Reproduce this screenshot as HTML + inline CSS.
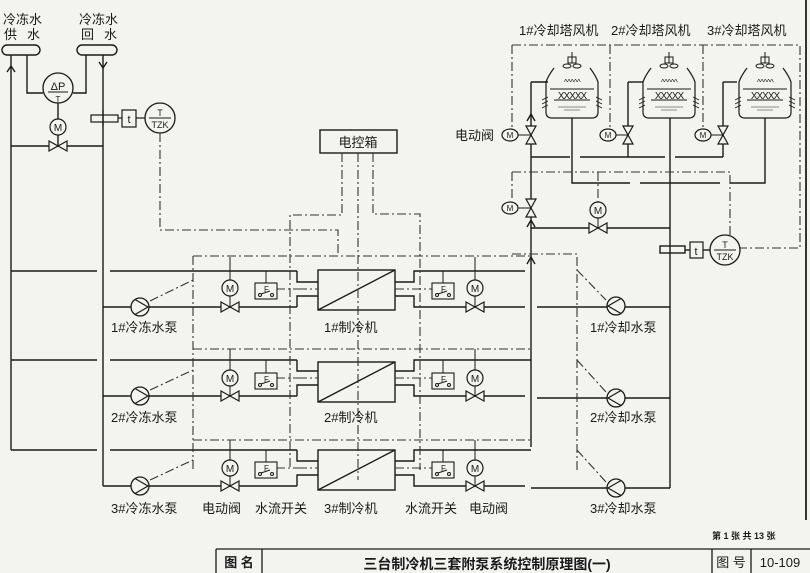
<!DOCTYPE html>
<html><head><meta charset="utf-8"><style>
html,body{margin:0;padding:0;background:#f3f3ef;}
svg{display:block;}
text{font-family:"Liberation Sans","Noto Sans CJK SC",sans-serif;fill:#1a1a1a;}
</style></head><body>
<svg width="810" height="573" viewBox="0 0 810 573" xmlns="http://www.w3.org/2000/svg">
<defs>
<g id="pump"><circle r="9" fill="#f3f3ef" stroke="#1a1a1a" stroke-width="1.3"/><polyline points="-5,-7.5 8,0 -5,7.5" fill="none" stroke="#1a1a1a" stroke-width="1.2"/></g>
<g id="valve"><path d="M-9,-5 L9,5 L9,-5 L-9,5 Z" fill="#f3f3ef" stroke="#1a1a1a" stroke-width="1.2"/></g>
<g id="vvalve"><path d="M-5,-9 L5,9 L-5,9 L5,-9 Z" fill="#f3f3ef" stroke="#1a1a1a" stroke-width="1.2"/></g>
<g id="mot"><circle r="8" fill="#f3f3ef" stroke="#1a1a1a" stroke-width="1.2"/><text x="0" y="4" font-size="10" text-anchor="middle">M</text></g>
<g id="fsw"><rect x="-11" y="-8" width="22" height="16" fill="#f3f3ef" stroke="#1a1a1a" stroke-width="1.1"/><text x="-2" y="1" font-size="8">F</text><circle cx="-6" cy="4" r="1.5" fill="none" stroke="#1a1a1a"/><circle cx="6" cy="4" r="1.5" fill="none" stroke="#1a1a1a"/><line x1="-5" y1="3" x2="4" y2="0" stroke="#1a1a1a"/></g>
<g id="emv"><ellipse rx="8" ry="6" fill="#f3f3ef" stroke="#1a1a1a" stroke-width="1.2"/><text x="0" y="3" font-size="8" text-anchor="middle">M</text></g>
<g id="tower"><path d="M-18,-22 Q-24,-14 -26,-8 L-26,22 Q-26,28 -20,28 L20,28 Q26,28 26,22 L26,-8 Q24,-14 18,-22" fill="none" stroke="#1a1a1a" stroke-width="1.2"/><path d="M-30,10 l6,-3 M-30,14 l6,-3 M-30,18 l6,-3 M24,7 l6,3 M24,11 l6,3 M24,15 l6,3" stroke="#1a1a1a" stroke-width="0.9"/><rect x="-4" y="-33" width="8" height="6" fill="none" stroke="#1a1a1a"/><line x1="0" y1="-38" x2="0" y2="-27" stroke="#1a1a1a"/><ellipse cx="-5" cy="-24" rx="4" ry="2" fill="none" stroke="#1a1a1a"/><ellipse cx="5" cy="-24" rx="4" ry="2" fill="none" stroke="#1a1a1a"/><text x="0" y="-5" font-size="8" text-anchor="middle" letter-spacing="-0.5">^^^^^</text><line x1="-22" y1="-1" x2="22" y2="-1" stroke="#1a1a1a"/><text x="0" y="9" font-size="10" text-anchor="middle" letter-spacing="-1">XXXXX</text><line x1="-18" y1="10" x2="18" y2="10" stroke="#1a1a1a"/><line x1="-14" y1="17" x2="14" y2="17" stroke="#888"/><line x1="-8" y1="20" x2="8" y2="20" stroke="#888"/></g>
</defs>

<line x1="806" y1="0" x2="806" y2="520" stroke="#333" stroke-width="2"/>
<g stroke="#1a1a1a" stroke-width="1.4" fill="none">
<rect x="2" y="45" width="38" height="10" rx="5"/><rect x="77" y="45" width="40" height="10" rx="5"/>
<line x1="11" y1="55" x2="11" y2="450"/>
<line x1="103" y1="55" x2="103" y2="486"/>
<path d="M7,72 L11,66 L15,72 M99,62 L103,68 L107,62"/>
<path d="M27,55 L27,93 L43,93 M86,55 L86,93 L73,93"/>
<line x1="58" y1="103" x2="58" y2="119"/>
<line x1="58" y1="135" x2="58" y2="146"/>
<line x1="11" y1="146" x2="103" y2="146"/>
<line x1="11" y1="271" x2="97" y2="271"/><line x1="110" y1="271" x2="297" y2="271"/>
<line x1="11" y1="360" x2="97" y2="360"/><line x1="110" y1="360" x2="297" y2="360"/>
<line x1="11" y1="450" x2="97" y2="450"/><line x1="110" y1="450" x2="297" y2="450"/>
<line x1="103" y1="307" x2="297" y2="307"/>
<line x1="103" y1="396" x2="297" y2="396"/>
<line x1="103" y1="486" x2="297" y2="486"/>
</g>
<g stroke="#1a1a1a" stroke-width="1.2" fill="none">
<rect x="91" y="115" width="27" height="7"/><line x1="103" y1="110" x2="103" y2="127"/>
<line x1="118" y1="118" x2="122" y2="118"/><line x1="136" y1="118" x2="145" y2="118"/>
</g>
<circle cx="58" cy="88" r="15" fill="#f3f3ef" stroke="#1a1a1a" stroke-width="1.3"/>
<text x="58" y="90" font-size="11" text-anchor="middle">ΔP</text><line x1="48" y1="92" x2="68" y2="92" stroke="#1a1a1a"/><text x="58" y="102" font-size="8" text-anchor="middle">T</text>
<use href="#mot" x="58" y="127"/><use href="#valve" x="58" y="146"/>
<rect x="122" y="110" width="14" height="17" fill="#f3f3ef" stroke="#1a1a1a" stroke-width="1.2"/><text x="129" y="123" font-size="11" text-anchor="middle">t</text>
<circle cx="160" cy="118" r="15" fill="#f3f3ef" stroke="#1a1a1a" stroke-width="1.3"/><text x="160" y="116" font-size="9" text-anchor="middle">T</text><line x1="149" y1="118" x2="171" y2="118" stroke="#1a1a1a"/><text x="160" y="128" font-size="9" text-anchor="middle">TZK</text>

<g stroke="#1a1a1a" stroke-width="1.4" fill="none">
<path d="M297,271 V282 H318 M297,307 V296 H318 M395,282 H414 V271 H525 M395,296 H414 V307 H525"/>
<path d="M297,360 V371 H318 M297,396 V385 H318 M395,371 H414 V360 H531 M395,385 H414 V396 H525"/>
<path d="M297,450 V461 H318 M297,486 V475 H318 M395,461 H414 V450 H531 M395,475 H414 V486 H525"/>
<line x1="537" y1="307" x2="670" y2="307"/><line x1="537" y1="398" x2="670" y2="398"/><line x1="531" y1="488" x2="670" y2="488"/>
<rect x="318" y="270" width="77" height="40" fill="#f3f3ef"/><line x1="318" y1="310" x2="395" y2="270"/>
<rect x="318" y="362" width="77" height="40" fill="#f3f3ef"/><line x1="318" y1="402" x2="395" y2="362"/>
<rect x="318" y="450" width="77" height="40" fill="#f3f3ef"/><line x1="318" y1="490" x2="395" y2="450"/>
<rect x="320" y="130" width="77" height="23" fill="#f3f3ef"/>
<line x1="531" y1="82" x2="531" y2="447"/><line x1="670" y1="183" x2="670" y2="488"/>
<path d="M527,264 L531,257 L535,264 M527,227 L531,220 L535,227 M527,121 L531,114 L535,121"/>
<line x1="531" y1="82" x2="548" y2="82"/><line x1="628" y1="82" x2="643" y2="82"/><line x1="723" y1="82" x2="737" y2="82"/>
<line x1="628" y1="82" x2="628" y2="157"/><line x1="723" y1="82" x2="723" y2="157"/>
<path d="M531,157 H570 M580,157 H665 M675,157 H723"/>
<path d="M572,118 V183 H630 M640,183 H720 M730,183 H765 V118"/>
<line x1="670" y1="118" x2="670" y2="183"/>
<line x1="531" y1="228" x2="670" y2="228"/>
<rect x="660" y="246" width="25" height="7"/>
<line x1="685" y1="250" x2="690" y2="250"/><line x1="703" y1="250" x2="710" y2="250"/>
</g>
<g stroke="#1a1a1a" stroke-width="1" fill="none">
<line x1="530" y1="135" x2="518" y2="135"/><line x1="628" y1="135" x2="616" y2="135"/><line x1="723" y1="135" x2="711" y2="135"/><line x1="530" y1="208" x2="518" y2="208"/><line x1="598" y1="218" x2="598" y2="228"/>
<line x1="230" y1="257" x2="230" y2="307"/><line x1="230" y1="349" x2="230" y2="396"/><line x1="230" y1="440" x2="230" y2="486"/>
<line x1="475" y1="257" x2="475" y2="307"/><line x1="475" y1="349" x2="475" y2="396"/><line x1="475" y1="440" x2="475" y2="486"/>
<line x1="266" y1="271" x2="266" y2="283"/><line x1="266" y1="360" x2="266" y2="373"/><line x1="266" y1="450" x2="266" y2="462"/>
<line x1="443" y1="271" x2="443" y2="283"/><line x1="443" y1="360" x2="443" y2="373"/><line x1="443" y1="450" x2="443" y2="462"/>
</g>
<g stroke="#333" stroke-width="1.1" fill="none" stroke-dasharray="9,3,2,3">
<path d="M160,133 V230 H338 V256"/>
<path d="M342,153 V215 H290 V470"/>
<path d="M373,153 V214 H420 V470"/>
<path d="M358,153 V480"/>
<path d="M193,256 H531 M193,256 V470"/>
<path d="M193,349 H531 M193,440 H531"/>
<path d="M298,289 H318 M395,289 H432 M276,289 H298 M298,378 H318 M395,378 H432 M276,378 H298 M298,468 H318 M395,468 H432 M276,468 H298"/>
<path d="M150,301 L193,280 M150,390 L193,370 M150,480 L193,460"/>
<path d="M512,254 H577 V470 M577,270 L606,300 M577,360 L606,392 M577,450 L606,482"/>
<path d="M512,45 H800 V248 H740 M512,45 V130 M610,45 V130 M703,45 V130"/>
<path d="M512,172 H730 V235 M512,172 V200 M598,172 V202"/>
</g>
<use href="#pump" x="140" y="307"/><use href="#pump" x="140" y="396"/><use href="#pump" x="140" y="486"/>
<g transform="translate(616,306) scale(-1,1)"><use href="#pump"/></g>
<g transform="translate(616,398) scale(-1,1)"><use href="#pump"/></g>
<g transform="translate(616,488) scale(-1,1)"><use href="#pump"/></g>
<use href="#mot" x="230" y="288"/><use href="#mot" x="230" y="378"/><use href="#mot" x="230" y="468"/>
<use href="#mot" x="475" y="288"/><use href="#mot" x="475" y="378"/><use href="#mot" x="475" y="468"/>
<use href="#valve" x="230" y="307"/><use href="#valve" x="230" y="396"/><use href="#valve" x="230" y="486"/>
<use href="#valve" x="475" y="307"/><use href="#valve" x="475" y="396"/><use href="#valve" x="475" y="486"/>
<use href="#fsw" x="266" y="291"/><use href="#fsw" x="266" y="381"/><use href="#fsw" x="266" y="470"/>
<use href="#fsw" x="443" y="291"/><use href="#fsw" x="443" y="381"/><use href="#fsw" x="443" y="470"/>
<use href="#tower" x="572" y="90"/><use href="#tower" x="669" y="90"/><use href="#tower" x="765" y="90"/>
<use href="#vvalve" x="531" y="135"/><use href="#vvalve" x="628" y="135"/><use href="#vvalve" x="723" y="135"/><use href="#vvalve" x="531" y="208"/>
<use href="#emv" x="510" y="135"/><use href="#emv" x="608" y="135"/><use href="#emv" x="703" y="135"/><use href="#emv" x="510" y="208"/>
<use href="#mot" x="598" y="210"/><use href="#valve" x="598" y="228"/>
<rect x="690" y="242" width="13" height="16" fill="#f3f3ef" stroke="#1a1a1a" stroke-width="1.2"/><text x="696" y="255" font-size="11" text-anchor="middle">t</text>
<circle cx="725" cy="250" r="15" fill="#f3f3ef" stroke="#1a1a1a" stroke-width="1.3"/><text x="725" y="248" font-size="9" text-anchor="middle">T</text><line x1="714" y1="250" x2="736" y2="250" stroke="#1a1a1a"/><text x="725" y="260" font-size="9" text-anchor="middle">TZK</text>

<g font-size="13">
<text x="3" y="24">冷冻水</text><text x="4" y="39" letter-spacing="10">供水</text>
<text x="79" y="24">冷冻水</text><text x="81" y="39" letter-spacing="10">回水</text>
<text x="358" y="147" text-anchor="middle">电控箱</text>
<text x="519" y="35">1#冷却塔风机</text><text x="611" y="35">2#冷却塔风机</text><text x="707" y="35">3#冷却塔风机</text>
<text x="455" y="140">电动阀</text>
<text x="111" y="332">1#冷冻水泵</text><text x="111" y="422">2#冷冻水泵</text><text x="111" y="513">3#冷冻水泵</text>
<text x="324" y="332">1#制冷机</text><text x="324" y="422">2#制冷机</text><text x="324" y="513">3#制冷机</text>
<text x="590" y="332">1#冷却水泵</text><text x="590" y="422">2#冷却水泵</text><text x="590" y="513">3#冷却水泵</text>
<text x="202" y="513">电动阀</text><text x="255" y="513">水流开关</text><text x="405" y="513">水流开关</text><text x="469" y="513">电动阀</text>
</g>
<text x="712" y="539" font-size="9" font-weight="bold">第 1 张  共 13 张</text>
<g stroke="#1a1a1a" stroke-width="1.3" fill="none">
<line x1="216" y1="549" x2="810" y2="549"/><line x1="216" y1="549" x2="216" y2="573"/><line x1="262" y1="549" x2="262" y2="573"/>
<line x1="712" y1="549" x2="712" y2="573"/><line x1="751" y1="549" x2="751" y2="573"/>
</g>
<text x="239" y="567" font-size="13" font-weight="bold" text-anchor="middle">图 名</text>
<text x="487" y="569" font-size="14" font-weight="bold" text-anchor="middle">三台制冷机三套附泵系统控制原理图(一)</text>
<text x="731" y="567" font-size="13" text-anchor="middle">图 号</text>
<text x="780" y="567" font-size="13" text-anchor="middle">10-109</text>
</svg>
</body></html>
